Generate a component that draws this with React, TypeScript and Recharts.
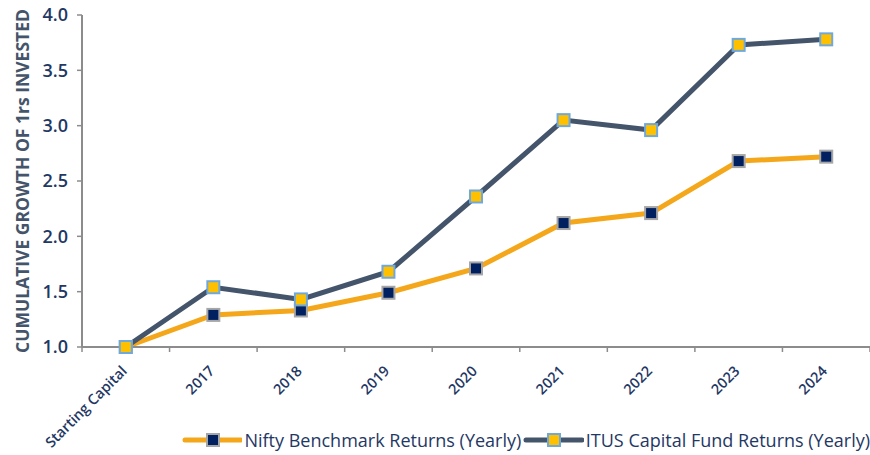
import React from 'react';
import { LineChart, Line, XAxis, YAxis, Legend, Label } from 'recharts';

const categories = ['Starting Capital', '2017', '2018', '2019', '2020', '2021', '2022', '2023', '2024'];
const niftyValues = [1.0, 1.29, 1.33, 1.49, 1.71, 2.12, 2.21, 2.68, 2.72];
const itusValues = [1.0, 1.54, 1.43, 1.68, 2.36, 3.05, 2.96, 3.73, 3.78];
const yTicks = [1.0, 1.5, 2.0, 2.5, 3.0, 3.5, 4.0];

const NIFTY_NAME = 'Nifty Benchmark Returns (Yearly)';
const ITUS_NAME = 'ITUS Capital Fund Returns (Yearly)';

const data = categories.map((c, i) => ({
  pos: i + 0.5,
  label: c,
  nifty: niftyValues[i],
  itus: itusValues[i],
}));

// ticks: integers are category boundaries (tick marks), halves are category centers (labels)
const xTicks: number[] = [];
for (let i = 0; i <= categories.length; i++) {
  xTicks.push(i);
  if (i < categories.length) xTicks.push(i + 0.5);
}

const FONT = '"Open Sans", "DejaVu Sans", sans-serif';
const TEXT_COLOR = '#1F3864';
const AXIS_COLOR = '#8C8C8C';
const ITUS_LINE = '#44546A';
const NIFTY_LINE = '#F4A71A';

const XTick = (props: any) => {
  const { x, y, payload } = props;
  const v = payload.value as number;
  if (Number.isInteger(v)) {
    return <line x1={x} y1={y} x2={x} y2={y + 5} stroke={AXIS_COLOR} strokeWidth={1.5} />;
  }
  const label = categories[Math.floor(v)];
  const ax = x + 2;
  const ay = y + 25;
  return (
    <text
      x={ax}
      y={ay}
      transform={`rotate(-45, ${ax}, ${ay})`}
      textAnchor="end"
      fill={TEXT_COLOR}
      fontFamily={FONT}
      fontSize={14.5}
      fontWeight={600}
    >
      {label}
    </text>
  );
};

const SquareDot = (fill: string, stroke: string, sw: number) => (props: any) => {
  const { cx, cy, index } = props;
  if (cx == null || cy == null) return <g key={index} />;
  const s = 12;
  return (
    <rect
      key={index}
      x={cx - s / 2}
      y={cy - s / 2}
      width={s}
      height={s}
      fill={fill}
      stroke={stroke}
      strokeWidth={sw}
    />
  );
};

const LegendIcon = ({ line, fill, stroke }: { line: string; fill: string; stroke: string }) => (
  <svg width={62} height={16} style={{ display: 'block' }}>
    <line x1={3} y1={8} x2={59} y2={8} stroke={line} strokeWidth={5} strokeLinecap="round" />
    <rect x={25} y={2} width={12} height={12} fill={fill} stroke={stroke} strokeWidth={2} />
  </svg>
);

const LegendContent = () => (
  <div
    style={{
      display: 'flex',
      alignItems: 'center',
      height: 30,
      paddingLeft: 182,
      whiteSpace: 'nowrap',
      overflow: 'hidden',
      fontFamily: FONT,
      fontSize: 18,
      color: TEXT_COLOR,
    }}
  >
    <LegendIcon line={NIFTY_LINE} fill="#002060" stroke="#A6A6A6" />
    <span style={{ marginLeft: 2, marginRight: 2 }}>{NIFTY_NAME}</span>
    <LegendIcon line={ITUS_LINE} fill="#FFC000" stroke="#6FA8DC" />
    <span style={{ marginLeft: 2 }}>{ITUS_NAME}</span>
  </div>
);

export default function App() {
  return (
    <div style={{ position: 'absolute', left: 0, top: 0, width: 870, height: 455, background: '#fff', overflow: 'hidden' }}>
      <LineChart
        width={870}
        height={455}
        data={data}
        margin={{ top: 15, right: 0, left: 0, bottom: 0 }}
      >
        <XAxis
          dataKey="pos"
          type="number"
          domain={[0, categories.length]}
          ticks={xTicks}
          interval={0}
          tickSize={0}
          tickMargin={0}
          tickLine={false}
          axisLine={{ stroke: AXIS_COLOR, strokeWidth: 2 }}
          tick={<XTick />}
          height={78}
        />
        <YAxis
          type="number"
          domain={[1, 4]}
          ticks={yTicks}
          interval={0}
          width={82}
          tickSize={5}
          tickMargin={9}
          tickLine={{ stroke: AXIS_COLOR, strokeWidth: 1.5 }}
          axisLine={{ stroke: AXIS_COLOR, strokeWidth: 2 }}
          tickFormatter={(v: number) => v.toFixed(1)}
          tick={{ fill: TEXT_COLOR, fontFamily: FONT, fontSize: 18, fontWeight: 600 }}
        >
          <Label
            content={(p: any) => {
              const vb = p.viewBox || { x: 0, y: 15, width: 82, height: 332 };
              const cx = vb.x + 22;
              const cy = vb.y + vb.height / 2;
              return (
                <text
                  x={cx}
                  y={cy}
                  transform={`rotate(-90, ${cx}, ${cy})`}
                  textAnchor="middle"
                  dominantBaseline="central"
                  fill={ITUS_LINE}
                  fontFamily={FONT}
                  fontSize={17.5}
                  fontWeight={700}
                >
                  CUMULATIVE GROWTH OF 1rs INVESTED
                </text>
              );
            }}
          />
        </YAxis>
        <Legend verticalAlign="bottom" wrapperStyle={{ height: 30 }} content={<LegendContent />} />
        <Line
          type="linear"
          dataKey="nifty"
          name={NIFTY_NAME}
          stroke={NIFTY_LINE}
          strokeWidth={5}
          dot={SquareDot('#002060', '#A6A6A6', 2)}
          activeDot={false}
          isAnimationActive={false}
        />
        <Line
          type="linear"
          dataKey="itus"
          name={ITUS_NAME}
          stroke={ITUS_LINE}
          strokeWidth={5}
          dot={SquareDot('#FFC000', '#6FA8DC', 2)}
          activeDot={false}
          isAnimationActive={false}
        />
      </LineChart>
    </div>
  );
}
